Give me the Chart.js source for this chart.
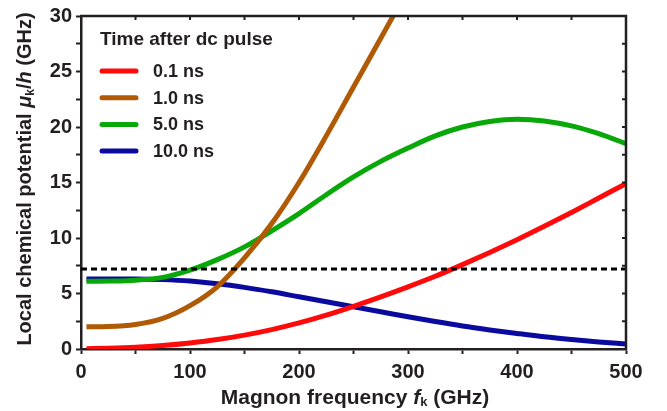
<!DOCTYPE html>
<html>
<head>
<meta charset="utf-8">
<script src="https://cdn.jsdelivr.net/npm/chart.js@4/dist/chart.umd.min.js"></script>
<style>
  html, body { margin: 0; padding: 0; background: #fff; }
  #wrap { width: 667px; height: 411px; position: relative; }
</style>
</head>
<body>
<div id="wrap"><canvas id="c" width="667" height="411"></canvas></div>
<script>
// ---- data ----
const freqGHz = [5, 25, 50, 75, 100, 125, 150, 175, 200, 225, 250, 275, 300, 325, 350, 375, 400, 425, 450, 475, 500];
const mu_0p1ns = [0.03, 0.07, 0.16, 0.32, 0.55, 0.85, 1.25, 1.75, 2.35, 3.05, 3.85, 4.7, 5.6, 6.55, 7.6, 8.7, 9.85, 11.05, 12.3, 13.6, 14.9];
const mu_1p0ns = [2.0, 2.02, 2.2, 2.75, 3.9, 5.6, 8.2, 11.3, 15.0, 19.2, 23.6, 28.0, 32.4, null, null, null, null, null, null, null, null];
const mu_5p0ns = [6.1, 6.12, 6.2, 6.45, 7.1, 8.05, 9.2, 10.65, 12.2, 13.9, 15.5, 16.9, 18.1, 19.2, 20.0, 20.5, 20.7, 20.55, 20.1, 19.4, 18.5];
const mu_10p0ns = [6.3, 6.3, 6.3, 6.25, 6.12, 5.88, 5.55, 5.15, 4.7, 4.25, 3.8, 3.35, 2.9, 2.47, 2.07, 1.72, 1.4, 1.1, 0.85, 0.63, 0.45];
const seriesLabels = ['0.1 ns', '1.0 ns', '5.0 ns', '10.0 ns'];
const refX = [0, 500];
const refY = [7.2, 7.2];
const legendTitle = 'Time after dc pulse';
const xTitle = [['Magnon frequency ', ''], ['f', 'i'], ['k', 's'], [' (GHz)', '']];
const yTitle = [['Local chemical potential ', ''], ['\u03bc', 'i'], ['k', 's'], ['/', ''], ['h', 'i'], [' (GHz)', '']];

const INK = '#231f20';
const FONT = '"Liberation Sans", Arial, sans-serif';
const colors = ['#ff0a0a', '#b05a05', '#08a808', '#0a0a9e'];

function pts(xs, ys) { return xs.map((x, i) => ({ x: x, y: ys[i] })).filter(p => p.y !== null); }

const seriesData = [mu_0p1ns, mu_1p0ns, mu_5p0ns, mu_10p0ns];
const datasets = seriesData.map((ys, i) => ({
  label: seriesLabels[i],
  data: pts(freqGHz, ys),
  borderColor: colors[i],
  backgroundColor: colors[i],
  borderWidth: 5,
  pointRadius: 0,
  cubicInterpolationMode: 'monotone',
  clip: 0,
  fill: false
}));
datasets.unshift({
  label: 'ref',
  data: pts(refX, refY),
  borderColor: '#000',
  borderWidth: 3,
  borderDash: [6, 4],
  pointRadius: 0,
  clip: 0,
  fill: false
});

function drawRich(ctx, segs, size) {
  const fontFor = (st, sz) => (st === 'i' ? 'italic bold ' : 'bold ') + sz + 'px ' + FONT;
  let total = 0;
  const widths = segs.map(([t, st]) => {
    const sz = st === 's' ? Math.round(size * 0.6) : size;
    ctx.font = fontFor(st, sz);
    const w = ctx.measureText(t).width;
    total += w;
    return w;
  });
  let x = -total / 2;
  segs.forEach(([t, st], i) => {
    const sz = st === 's' ? Math.round(size * 0.6) : size;
    ctx.font = fontFor(st, sz);
    ctx.fillText(t, x, st === 's' ? size * 0.38 + 2 : size * 0.36);
    x += widths[i];
  });
}

const decor = {
  id: 'decor',
  afterDraw(chart) {
    const ctx = chart.ctx;
    const a = chart.chartArea;
    const xs = chart.scales.x, ys = chart.scales.y;
    ctx.save();
    ctx.strokeStyle = INK;
    ctx.fillStyle = INK;
    // top and right frame
    ctx.lineWidth = 2.5;
    ctx.beginPath();
    ctx.moveTo(a.left - 1, a.top);
    ctx.lineTo(a.right, a.top);
    ctx.lineTo(a.right, a.bottom + 1);
    ctx.stroke();
    // inward ticks
    ctx.lineWidth = 2;
    ctx.beginPath();
    for (let v = 50; v < 500; v += 50) {
      const px = xs.getPixelForValue(v);
      ctx.moveTo(px, a.top); ctx.lineTo(px, a.top + 4);
    }
    for (let v = 2.5; v < 30; v += 2.5) {
      const py = ys.getPixelForValue(v);
      ctx.moveTo(a.right, py); ctx.lineTo(a.right - 4, py);
    }
    ctx.stroke();

    // legend
    ctx.textBaseline = 'middle';
    ctx.textAlign = 'left';
    ctx.font = 'bold 19px ' + FONT;
    ctx.fillText(legendTitle, 100, 40);
    chart.data.datasets.slice(1).forEach((ds, i) => {
      const y = 71 + i * 26.7;
      ctx.strokeStyle = ds.borderColor;
      ctx.lineWidth = 5;
      ctx.lineCap = 'round';
      ctx.beginPath();
      ctx.moveTo(102, y); ctx.lineTo(136, y);
      ctx.stroke();
      ctx.fillStyle = INK;
      ctx.font = 'bold 18px ' + FONT;
      ctx.fillText(ds.label, 153, y + 1);
    });

    // axis titles
    ctx.textBaseline = 'alphabetic';
    ctx.textAlign = 'left';
    ctx.fillStyle = INK;
    ctx.save();
    ctx.translate(355, 396);
    drawRich(ctx, xTitle, 21);
    ctx.restore();
    ctx.save();
    ctx.translate(24, 179);
    ctx.rotate(-Math.PI / 2);
    drawRich(ctx, yTitle, 20);
    ctx.restore();
    ctx.restore();
  }
};

new Chart(document.getElementById('c'), {
  type: 'line',
  data: { datasets: datasets },
  options: {
    responsive: false,
    animation: false,
    devicePixelRatio: 1,
    layout: { padding: { top: 14, right: 41, left: 0, bottom: 0 } },
    plugins: { legend: { display: false }, tooltip: { enabled: false }, title: { display: false } },
    scales: {
      x: {
        type: 'linear', min: 0, max: 500,
        afterFit(s) { s.height = 62; },
        border: { display: true, color: INK, width: 2.5 },
        grid: { display: true, drawOnChartArea: false, drawTicks: true, tickLength: 5, tickColor: INK, tickWidth: 2 },
        ticks: {
          stepSize: 50, autoSkip: false, maxRotation: 0, padding: 6,
          color: INK, font: { family: FONT, size: 20, weight: 'bold' },
          callback: v => (v % 100 === 0 ? String(v) : '')
        }
      },
      y: {
        type: 'linear', min: 0, max: 30,
        afterFit(s) { s.width = 81; },
        border: { display: true, color: INK, width: 2.5 },
        grid: { display: true, drawOnChartArea: false, drawTicks: true, tickLength: 5, tickColor: INK, tickWidth: 2 },
        ticks: {
          stepSize: 2.5, autoSkip: false, padding: 4,
          color: INK, font: { family: FONT, size: 20, weight: 'bold' },
          callback: v => (v % 5 === 0 ? String(v) : '')
        }
      }
    }
  },
  plugins: [decor]
});
</script>
</body>
</html>
